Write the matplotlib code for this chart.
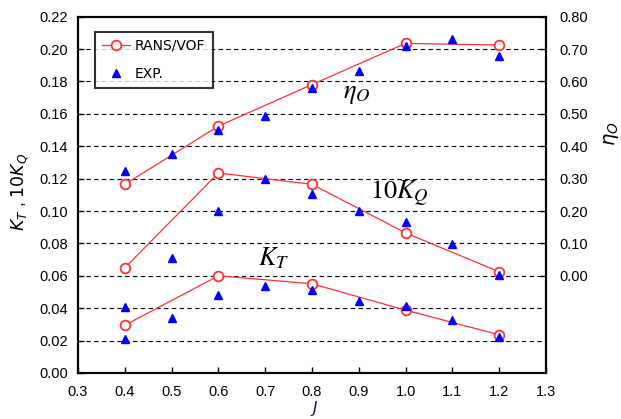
import matplotlib.pyplot as plt

plt.rcParams['font.family'] = ['Liberation Sans', 'DejaVu Sans']

# Advance coefficient
J_cfd = [0.4, 0.6, 0.8, 1.0, 1.2]
J_exp = [0.4, 0.5, 0.6, 0.7, 0.8, 0.9, 1.0, 1.1, 1.2]

# RANS/VOF results
kt_cfd = [0.0295, 0.060, 0.0551, 0.0388, 0.0236]
kq10_cfd = [0.0649, 0.1235, 0.1165, 0.0865, 0.0625]
eta_cfd = [0.2825, 0.462, 0.5905, 0.7175, 0.7125]

# Experiment
kt_exp = [0.021, 0.034, 0.048, 0.0535, 0.051, 0.0445, 0.0416, 0.033, 0.022]
kq10_exp = [0.041, 0.0707, 0.100, 0.1198, 0.1103, 0.100, 0.0934, 0.0796, 0.0604]
eta_exp = [0.324, 0.3775, 0.4515, 0.494, 0.5805, 0.633, 0.708, 0.732, 0.6795]

left_ticks = [0.00, 0.02, 0.04, 0.06, 0.08, 0.10, 0.12, 0.14, 0.16, 0.18, 0.20, 0.22]
right_ticks = [0.00, 0.10, 0.20, 0.30, 0.40, 0.50, 0.60, 0.70, 0.80]
x_ticks = [0.3, 0.4, 0.5, 0.6, 0.7, 0.8, 0.9, 1.0, 1.1, 1.2, 1.3]

red = '#ff3030'
blue = '#0000ff'
fs = 10.5

fig = plt.figure(figsize=(6.21, 4.19), dpi=100)
ax = fig.add_axes([0.1256, 0.1098, 0.7536, 0.8504])
ax2 = ax.twinx()

# horizontal dashed grid
for v in left_ticks[1:-1]:
    ax.axhline(v, color='black', lw=0.8, ls=(0, (4, 3)), zorder=0)

cfd_style = dict(color=red, lw=0.9, marker='o', ms=7, mfc='white', mec=red, mew=1.3)
exp_style = dict(ls='none', marker='^', ms=6, color=blue)

ax.plot(J_cfd, kt_cfd, **cfd_style, label='RANS/VOF')
ax.plot(J_exp, kt_exp, **exp_style, label='EXP.')
ax.plot(J_cfd, kq10_cfd, **cfd_style)
ax.plot(J_exp, kq10_exp, **exp_style)
ax2.plot(J_cfd, eta_cfd, **cfd_style)
ax2.plot(J_exp, eta_exp, **exp_style)

ax.set_xlim(0.3, 1.3)
ax.set_ylim(0, 0.22)
ax2.set_ylim(-0.30, 0.80)
ax.set_xticks(x_ticks)
ax.set_xticklabels([f'{t:.1f}' for t in x_ticks], fontsize=fs)
ax.set_yticks(left_ticks)
ax.set_yticklabels([f'{t:.2f}' for t in left_ticks], fontsize=fs)
ax2.set_yticks(right_ticks)
ax2.set_yticklabels([f'{t:.2f}' for t in right_ticks], fontsize=fs)
ax.tick_params(direction='in', length=4, width=1, pad=7)
ax.tick_params(axis='x', pad=9)
ax2.tick_params(direction='in', length=4, width=1, pad=10)
for sp in ax.spines.values():
    sp.set_linewidth(1.5)
for sp in ax2.spines.values():
    sp.set_linewidth(1.5)

fig.text(0.5056, 0.002, '$J$', fontsize=11, ha='center', va='bottom',
         color='#101040', math_fontfamily='dejavusans')
fig.text(0.032, 0.542, '$K_T$ , $10K_Q$', rotation=90, fontsize=12.5,
         ha='center', va='center', math_fontfamily='dejavusans')
fig.text(0.985, 0.68, '$\\eta_O$', rotation=90, fontsize=14,
         ha='center', va='center', math_fontfamily='dejavusans')

# curve annotations
ax.text(0.866, 0.170, '$\\eta_O$', fontsize=19, math_fontfamily='stix')
ax.text(0.924, 0.1074, '$10K_Q$', fontsize=19, math_fontfamily='stix')
ax.text(0.685, 0.0667, '$K_T$', fontsize=19, math_fontfamily='stix')

leg = ax.legend(loc='upper left', bbox_to_anchor=(0.036, 0.957), borderaxespad=0,
                prop={'family': 'DejaVu Sans', 'size': 10},
                frameon=True, fancybox=False, edgecolor='black', borderpad=0.5,
                labelspacing=1.0, handlelength=2.0, handletextpad=0.4)
leg.get_frame().set_linewidth(1.5)

fig.savefig('out.png', dpi=100)
